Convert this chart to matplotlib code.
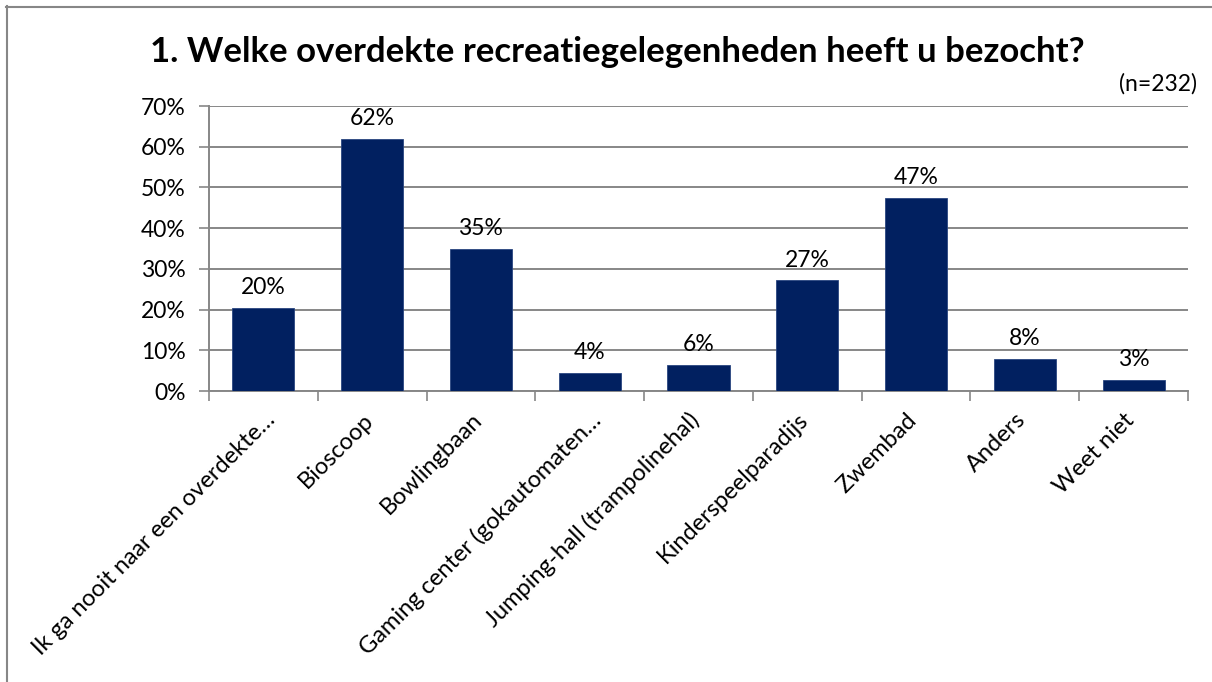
import numpy as np
import matplotlib
matplotlib.use("Agg")
import matplotlib.pyplot as plt
import matplotlib.transforms as mtransforms
from matplotlib.lines import Line2D

plt.rcParams['font.family'] = ['Lato', 'DejaVu Sans']

categories = [
    "Ik ga nooit naar een overdekte…",
    "Bioscoop",
    "Bowlingbaan",
    "Gaming center (gokautomaten…",
    "Jumping-hall (trampolinehal)",
    "Kinderspeelparadijs",
    "Zwembad",
    "Anders",
    "Weet niet",
]
values = [20.4, 61.9, 34.9, 4.4, 6.5, 27.2, 47.4, 7.9, 2.7]
labels = ["20%", "62%", "35%", "4%", "6%", "27%", "47%", "8%", "3%"]
yticks = [0, 10, 20, 30, 40, 50, 60, 70]

W, H = 1212, 682
fig = plt.figure(figsize=(W / 100, H / 100), dpi=100)
ax = fig.add_axes([209 / W, 1 - 391 / H, (1188 - 209) / W, (391 - 106) / H])

grey = "#878787"
x = np.arange(len(categories))
ax.bar(x, values, width=0.57, color="#012060", edgecolor="#2a4680", linewidth=0.6, zorder=3)

for xi, v, lab in zip(x, values, labels):
    ax.annotate(lab, (xi, v), xytext=(0, 7), textcoords="offset points",
                ha="center", va="bottom", fontsize=16.5, color="black")

ax.set_xlim(-0.5, len(categories) - 0.5)
ax.set_ylim(0, 70)
ax.set_yticks(yticks)
ax.set_yticklabels([f"{t}%" for t in yticks], fontsize=16.5)
ax.yaxis.grid(True, color=grey, linewidth=1.4, zorder=0)
ax.tick_params(axis="y", length=7, width=1.2, color=grey, pad=10)

ax.set_xticks(x)
ax.set_xticklabels(categories, rotation=45, ha="right", va="top", fontsize=17)
ax.set_xticks(np.arange(-0.5, len(categories)), minor=True)
ax.tick_params(axis="x", which="major", length=0, pad=13)
ax.tick_params(axis="x", which="minor", length=7, width=1.2, color=grey)

# Excel nudges the labels a little to the right (more for the cut-off ones)
for lbl in ax.get_xticklabels():
    dx = 16 if lbl.get_text().endswith("…") else 5
    lbl.set_transform(lbl.get_transform() + mtransforms.ScaledTranslation(dx / 100, 0, fig.dpi_scale_trans))

for s in ["top", "right"]:
    ax.spines[s].set_visible(False)
for s in ["left", "bottom"]:
    ax.spines[s].set_color(grey)
    ax.spines[s].set_linewidth(1.4)

fig.text(617 / W, 1 - 52 / H, "1. Welke overdekte recreatiegelegenheden heeft u bezocht?",
         ha="center", va="center", fontsize=25, fontweight="bold")
fig.text(1197 / W, 1 - 84 / H, "(n=232)", ha="right", va="center", fontsize=16.5)

# outer chart frame
fig.add_artist(Line2D([6 / W, 1], [1 - 6.5 / H, 1 - 6.5 / H], color=grey, linewidth=1.5))
fig.add_artist(Line2D([6.5 / W, 6.5 / W], [0, 1 - 6 / H], color=grey, linewidth=1.5))

fig.savefig("out.png", dpi=100)
